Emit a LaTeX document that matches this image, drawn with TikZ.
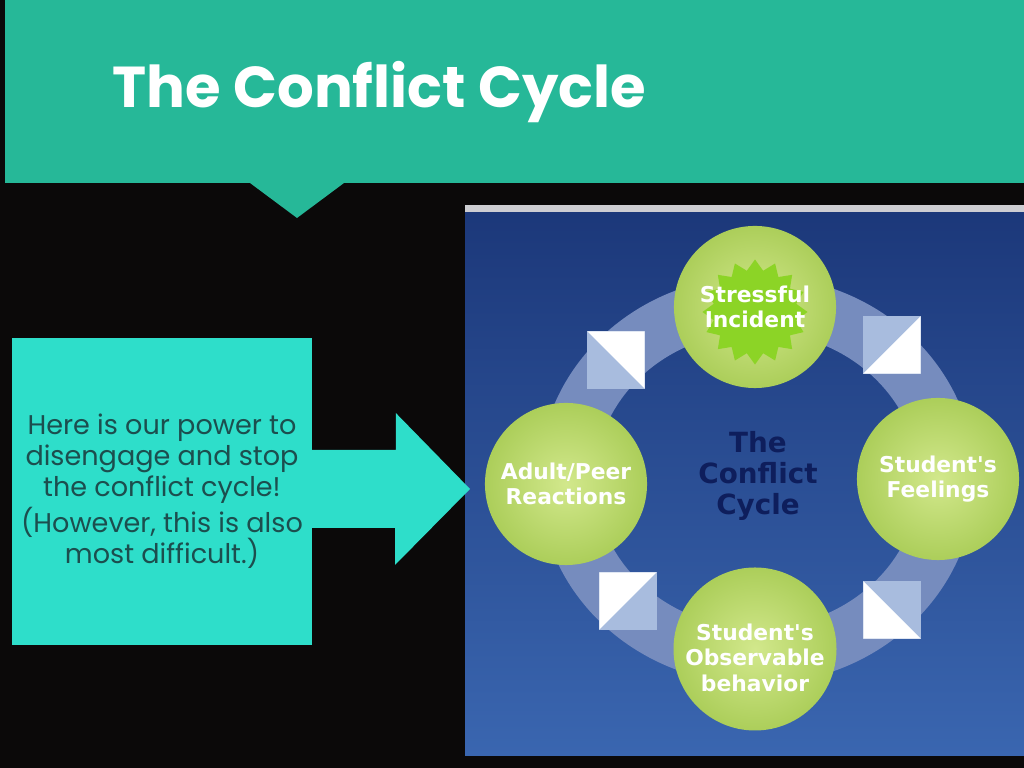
\documentclass[tikz,border=0pt]{standalone}
\usepackage{fontspec}
\usetikzlibrary{calc}
\usetikzlibrary{positioning}
\usetikzlibrary{shapes}
\newfontfamily\gothic{Poppins}
\newfontfamily\smart{DejaVu Sans}
\definecolor{slide}{RGB}{11,9,9}
\definecolor{banner}{RGB}{38,184,152}
\definecolor{notecyan}{RGB}{46,222,202}
\definecolor{notetext}{RGB}{28,78,78}
\definecolor{paneltop}{RGB}{28,56,122}
\definecolor{panelbot}{RGB}{58,102,176}
\definecolor{strip}{RGB}{205,205,210}
\definecolor{ringblue}{RGB}{118,140,190}
\definecolor{turnblue}{RGB}{168,188,222}
\definecolor{stagein}{RGB}{210,232,140}
\definecolor{stageout}{RGB}{172,206,90}
\definecolor{burst}{RGB}{140,212,38}
\definecolor{hubnavy}{RGB}{14,30,92}
\tikzset{
  stage/.style={circle, minimum size=1.62cm, inner sep=0pt, inner color=stagein,
    outer color=stageout, text=white, align=center,
    font=\smart\bfseries\fontsize{6.2}{7.2}\selectfont},
  turn/.style n args={3}{minimum size=0.57cm, inner sep=0pt, fill=turnblue,
    path picture={\fill[white] (path picture bounding box.#1)
      -- (path picture bounding box.#2) -- (path picture bounding box.#3) -- cycle;}},
  note/.style={fill=notecyan, minimum width=3cm, minimum height=3.07cm, inner sep=0pt,
    text=notetext, align=center, font=\gothic\fontsize{7.7}{8.8}\selectfont},
}

\begin{document}
\begin{tikzpicture}[x=0.01cm, y=-0.01cm]
      \useasboundingbox (0,0) rectangle (1024,768);
      \fill[slide] (0,0) rectangle (1024,768);
      % title banner
      \fill[banner] (5,0) -- (1024,0) -- (1024,183) -- (344,183) -- (297,218)
        -- (250,183) -- (5,183) -- cycle;
      \node[anchor=base west, text=white, inner sep=0pt,
        font=\gothic\bfseries\fontsize{16.4}{20}\selectfont] (title) at (112,108) {The Conflict Cycle};
      % diagram panel
      \fill[strip] (465,205) rectangle (1024,213);
      \shade[top color=paneltop, bottom color=panelbot] (465,213) rectangle (1024,756);
      \coordinate (ringc) at (757,480);
      \draw[ringblue, line width=0.56cm] (ringc) ellipse [x radius=1.9cm, y radius=1.76cm];
      \node[turn={north west}{north east}{south east}] (turnA) at (616,360) {};
      \node[turn={north east}{south east}{south west}] (turnB) at (892,345) {};
      \node[turn={north west}{south west}{south east}] (turnC) at (892,610) {};
      \node[turn={north west}{north east}{south west}] (turnD) at (628,601) {};
      \node[stage, path picture={\node[star, star points=16, star point ratio=1.25,
          minimum size=1.05cm, inner sep=0pt, fill=burst] at ([yshift=-0.05cm]path picture bounding box.center) {};}]
        (stress) at (755,307) {Stressful\\Incident};
      \node[stage] (feel) at (938,479) {Student's\\Feelings};
      \node[stage] (behave) at (755,649) {\rule{0pt}{0.34cm}Student's\\Observable\\behavior};
      \node[stage] (react) at (566,484) {Adult/Peer\\Reactions};
      \node[text=hubnavy, align=center, font=\smart\bfseries\fontsize{7.9}{8.8}\selectfont]
        (hub) at (758,476) {The\\Conflict\\Cycle};
      % note and arrow
      \node[note] (note) at (162,491.5) {Here is our power to\\disengage and stop\\the conflict cycle!\\(However, this is also\\most difficult.)};
      \coordinate (tip) at (470,489);
      \fill[notecyan] ($(note.east |- tip)+(-2,-39)$) -- ++(85,0) -- ++(0,-37) -- (tip)
        -- ++(-75,76) -- ++(0,-37) -- ++(-85,0) -- cycle;
    \end{tikzpicture}
\end{document}
